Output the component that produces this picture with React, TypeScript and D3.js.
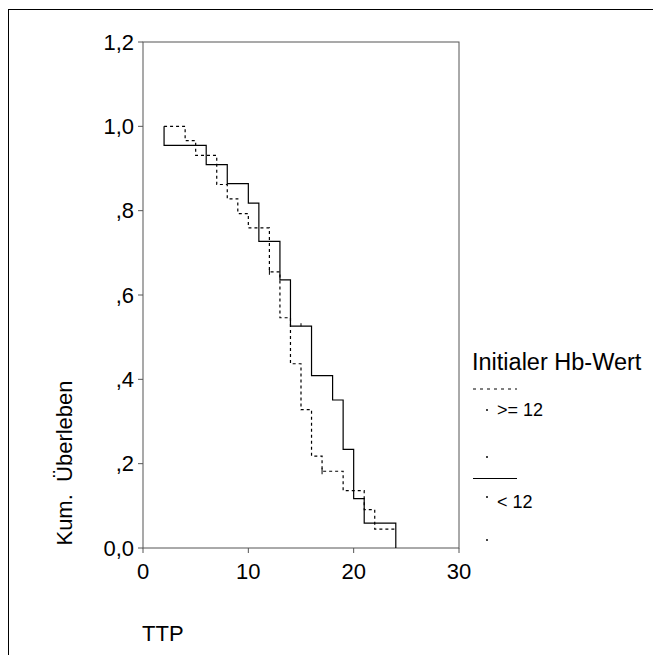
import React from "react";
import * as d3 from "d3";

// Kaplan-Meier data, group "< 12" (solid)
const lowStart = 2;
const lowTimes = [2, 6, 8, 10, 11, 13, 14, 16, 18, 19, 20, 21, 24];
const lowSurv = [0.955, 0.909, 0.864, 0.818, 0.727, 0.636, 0.526, 0.409, 0.351, 0.234, 0.117, 0.059, 0];
const lowCensor = [15];

// group ">= 12" (dashed)
const highStart = 2;
const highTimes = [4, 5, 7, 8, 9, 10, 12, 13, 14, 15, 16, 17, 19, 21, 22];
const highSurv = [0.966, 0.931, 0.862, 0.828, 0.793, 0.759, 0.655, 0.546, 0.437, 0.328, 0.218, 0.182, 0.136, 0.091, 0.045];
const highEnd = 24;
const highCensor = [12, 17];

const yTicks = [0, 0.2, 0.4, 0.6, 0.8, 1.0, 1.2];
const yTickLabels = ["0,0", ",2", ",4", ",6", ",8", "1,0", "1,2"];
const xTicks = [0, 10, 20, 30];

const legendTitle = "Initialer Hb-Wert";
const legendLabels = [">= 12", "< 12"];

const W = 653;
const H = 655;
const m = { left: 143, right: 459, top: 42, bottom: 548 };
const FONT = "'Liberation Sans', Arial, sans-serif";

function stepPoints(start: number, times: number[], surv: number[], end?: number) {
  const pts: [number, number][] = [[start, 1]];
  let s = 1;
  times.forEach((t, i) => {
    pts.push([t, s]);
    s = surv[i];
    pts.push([t, s]);
  });
  if (end !== undefined) pts.push([end, s]);
  return pts;
}

function survAt(times: number[], surv: number[], t: number) {
  let s = 1;
  times.forEach((tt, i) => {
    if (tt <= t) s = surv[i];
  });
  return s;
}

export default function App() {
  const x = d3.scaleLinear().domain([0, 30]).range([m.left, m.right]);
  const y = d3.scaleLinear().domain([0, 1.2]).range([m.bottom, m.top]);
  const line = d3
    .line<[number, number]>()
    .x((d) => x(d[0]))
    .y((d) => y(d[1]));

  const lowPts = stepPoints(lowStart, lowTimes, lowSurv);
  const highPts = stepPoints(highStart, highTimes, highSurv, highEnd);

  const axisColor = "#555";

  return (
    <svg width={W} height={H} style={{ position: "absolute", left: 0, top: 0 }}>
      <rect x={0} y={0} width={W} height={H} fill="#fff" />
      <rect x={8.5} y={9.5} width={800} height={800} fill="none" stroke="#000" strokeWidth={1} />
      {/* plot frame */}
      <rect
        x={m.left}
        y={m.top}
        width={m.right - m.left}
        height={m.bottom - m.top}
        fill="none"
        stroke={axisColor}
        strokeWidth={1}
      />
      {/* y ticks */}
      {yTicks.map((t, i) => (
        <g key={"y" + i}>
          <line x1={m.left - 5} x2={m.left} y1={y(t)} y2={y(t)} stroke={axisColor} />
          <text
            x={m.left - 9}
            y={y(t)}
            dy="0.35em"
            textAnchor="end"
            fontFamily={FONT}
            fontSize={22}
            fill="#000"
          >
            {yTickLabels[i]}
          </text>
        </g>
      ))}
      {/* x ticks */}
      {xTicks.map((t) => (
        <g key={"x" + t}>
          <line x1={x(t)} x2={x(t)} y1={m.bottom} y2={m.bottom + 5} stroke={axisColor} />
          <text
            x={x(t)}
            y={m.bottom + 31}
            textAnchor="middle"
            fontFamily={FONT}
            fontSize={22}
            fill="#000"
          >
            {t}
          </text>
        </g>
      ))}
      {/* axis titles */}
      <text x={142} y={641} fontFamily={FONT} fontSize={22} fill="#000">
        TTP
      </text>
      <text
        transform={`translate(72,${463}) rotate(-90)`}
        textAnchor="middle"
        fontFamily={FONT}
        fontSize={22}
        fill="#000"
        style={{ whiteSpace: "pre" }}
      >
        {"Kum.  Überleben"}
      </text>
      {/* curves */}
      <path d={line(highPts) || ""} fill="none" stroke="#000" strokeWidth={1.2} strokeDasharray="3,3" />
      <path d={line(lowPts) || ""} fill="none" stroke="#000" strokeWidth={1.2} />
      {highCensor.map((t) => {
        const s = survAt(highTimes, highSurv, t);
        return (
          <line key={"hc" + t} x1={x(t)} x2={x(t)} y1={y(s) - 3} y2={y(s) + 3} stroke="#000" strokeWidth={1} />
        );
      })}
      {lowCensor.map((t) => {
        const s = survAt(lowTimes, lowSurv, t);
        return (
          <line key={"lc" + t} x1={x(t)} x2={x(t)} y1={y(s) - 3} y2={y(s)} stroke="#000" strokeWidth={1} />
        );
      })}
      {/* legend */}
      <text x={472} y={370} fontFamily={FONT} fontSize={23.5} fill="#000">
        {legendTitle}
      </text>
      <line x1={473} x2={517} y1={389} y2={389} stroke="#000" strokeWidth={1} strokeDasharray="3,4" />
      <rect x={486} y={409} width={2} height={2} fill="#444" />
      <text x={497} y={416} fontFamily={FONT} fontSize={18} fill="#000">
        {legendLabels[0]}
      </text>
      <rect x={486} y={456} width={2} height={2} fill="#444" />
      <line x1={473} x2={517} y1={478.5} y2={478.5} stroke="#000" strokeWidth={1} />
      <rect x={486} y={496} width={2} height={2} fill="#444" />
      <text x={497} y={508} fontFamily={FONT} fontSize={18} fill="#000">
        {legendLabels[1]}
      </text>
      <rect x={486} y={539} width={2} height={2} fill="#444" />
    </svg>
  );
}
